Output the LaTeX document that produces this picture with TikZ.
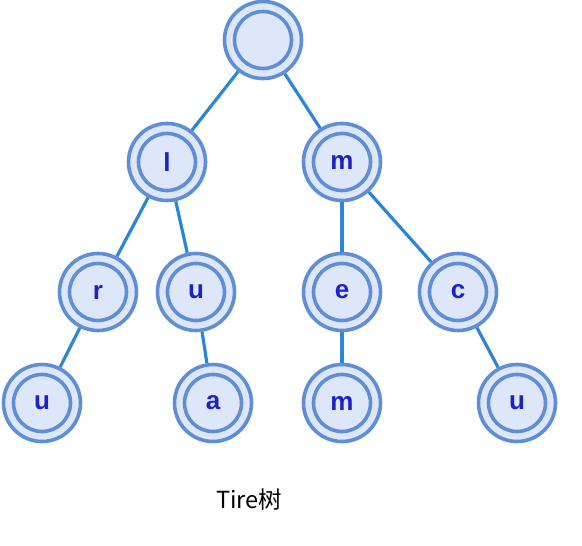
\documentclass[tikz,border=0pt]{standalone}
\usepackage{fontspec}
\newfontfamily\letterfont{Liberation Sans}
\newfontfamily\cjk{Noto Sans CJK SC}
\definecolor{ringblue}{HTML}{5F8ED9}
\definecolor{fillblue}{HTML}{DEE6FA}
\definecolor{edgeblue}{HTML}{2A86D8}
\definecolor{letterblue}{HTML}{1E22C6}
\begin{document}
\begin{tikzpicture}[x=1pt, y=-1pt,
    tnode/.style={circle, fill=fillblue, draw=ringblue, line width=3.6pt,
        minimum size=77pt, inner sep=0pt, text=letterblue,
        font=\letterfont\bfseries\fontsize{26}{26}\selectfont,
        path picture={\draw[ringblue, line width=3.6pt]
            (path picture bounding box.center) circle (28.5pt);}},
    tedge/.style={edgeblue, line width=3.2pt}]

    \useasboundingbox (0,0) rectangle (582,546);

    % Nodos del arbol
    \node[tnode] (root) at (263,40) {};
    \node[tnode] (l) at (167,162) {l};
    \node[tnode] (m) at (342,162) {m};
    \node[tnode] (lr) at (98,292) {r};
    \node[tnode] (lu) at (196,292) {u};
    \node[tnode] (me) at (342,292) {e};
    \node[tnode] (mc) at (458,292) {c};
    \node[tnode] (lru) at (42,403) {u};
    \node[tnode] (lua) at (213,403) {a};
    \node[tnode] (mem) at (342,403) {m};
    \node[tnode] (mcu) at (517,403) {u};

    % Aristas
    \draw[tedge] (root) -- (l);
    \draw[tedge] (root) -- (m);
    \draw[tedge] (l) -- (lr);
    \draw[tedge] (l) -- (lu);
    \draw[tedge] (m) -- (me);
    \draw[tedge] (m) -- (mc);
    \draw[tedge] (lr) -- (lru);
    \draw[tedge] (lu) -- (lua);
    \draw[tedge] (me) -- (mem);
    \draw[tedge] (mc) -- (mcu);

    % Titulo
    \node[font=\cjk\fontsize{23.5}{23.5}\selectfont, text=black] (title) at (249,500) {Tire树};

\end{tikzpicture}
\end{document}
